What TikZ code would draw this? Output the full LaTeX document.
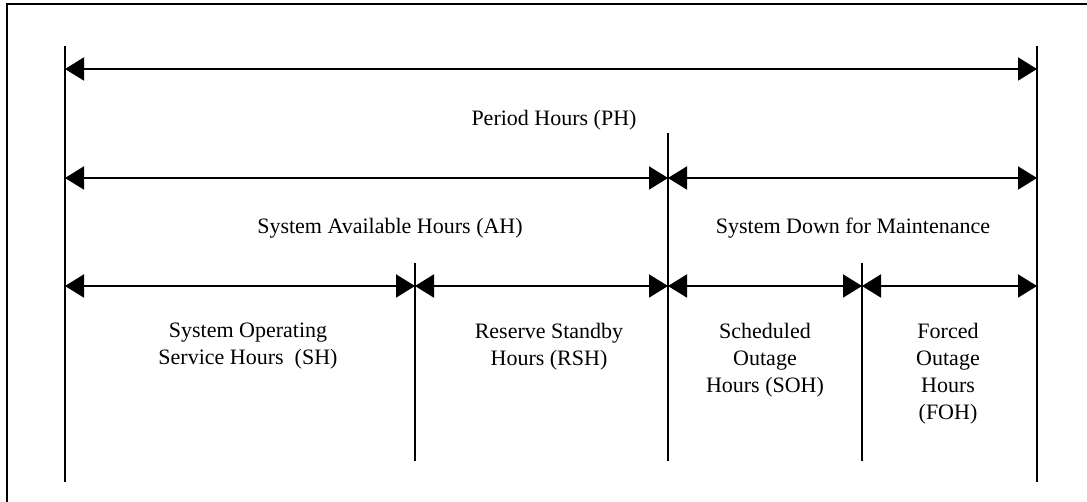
\documentclass[tikz,border=0pt]{standalone}
\usepackage{fontspec}
\setmainfont{Liberation Serif}
\usetikzlibrary{arrows.meta}
\tikzset{
  dim/.style={line width=2pt, {Triangle[length=19pt,width=23pt]}-{Triangle[length=19pt,width=23pt]}},
  vline/.style={line width=1.5pt},
  frame/.style={line width=2.2pt},
  lbl/.style={inner sep=0pt, align=center, anchor=north, font=\fontsize{22}{27}\selectfont}
}
\begin{document}
\begin{tikzpicture}[x=1pt,y=-1pt]
\useasboundingbox (0,0) rectangle (1087,502);
% frame (only top and left edges are visible)
\coordinate (F0) at (7,502);
\coordinate (F1) at (7,4);
\coordinate (F2) at (1087,4);
\draw[frame] (F0) -- (F1) -- (F2);
% vertical boundary lines
\coordinate (L1t) at (65,46);   \coordinate (L1b) at (65,482);
\coordinate (R1t) at (1037,46); \coordinate (R1b) at (1037,482);
\coordinate (M1t) at (668,133); \coordinate (M1b) at (668,461);
\coordinate (S1t) at (415,263); \coordinate (S1b) at (415,461);
\coordinate (S2t) at (862,263); \coordinate (S2b) at (862,461);
\draw[vline] (L1t) -- (L1b);
\draw[vline] (R1t) -- (R1b);
\draw[vline] (M1t) -- (M1b);
\draw[vline] (S1t) -- (S1b);
\draw[vline] (S2t) -- (S2b);
% row levels
\coordinate (r1) at (0,69);
\coordinate (r2) at (0,178);
\coordinate (r3) at (0,286);
% dimension arrows
\draw[dim] (L1t |- r1) -- (R1t |- r1);
\draw[dim] (L1t |- r2) -- (M1t |- r2);
\draw[dim] (M1t |- r2) -- (R1t |- r2);
\draw[dim] (L1t |- r3) -- (S1t |- r3);
\draw[dim] (S1t |- r3) -- (M1t |- r3);
\draw[dim] (M1t |- r3) -- (S2t |- r3);
\draw[dim] (S2t |- r3) -- (R1t |- r3);
% labels
\node[lbl] (ph)  at (554,110) {Period Hours (PH)};
\node[lbl] (ah)  at (390,218) {System Available Hours (AH)};
\node[lbl] (dm)  at (853,218) {System Down for Maintenance};
\node[lbl] (sh)  at (248,323) {System Operating\\Service Hours\ \ (SH)};
\node[lbl] (rsh) at (549,323) {Reserve Standby\\Hours (RSH)};
\node[lbl] (soh) at (765,323) {Scheduled\\Outage\\Hours (SOH)};
\node[lbl] (foh) at (948,323) {Forced\\Outage\\Hours\\(FOH)};
\end{tikzpicture}
\end{document}
